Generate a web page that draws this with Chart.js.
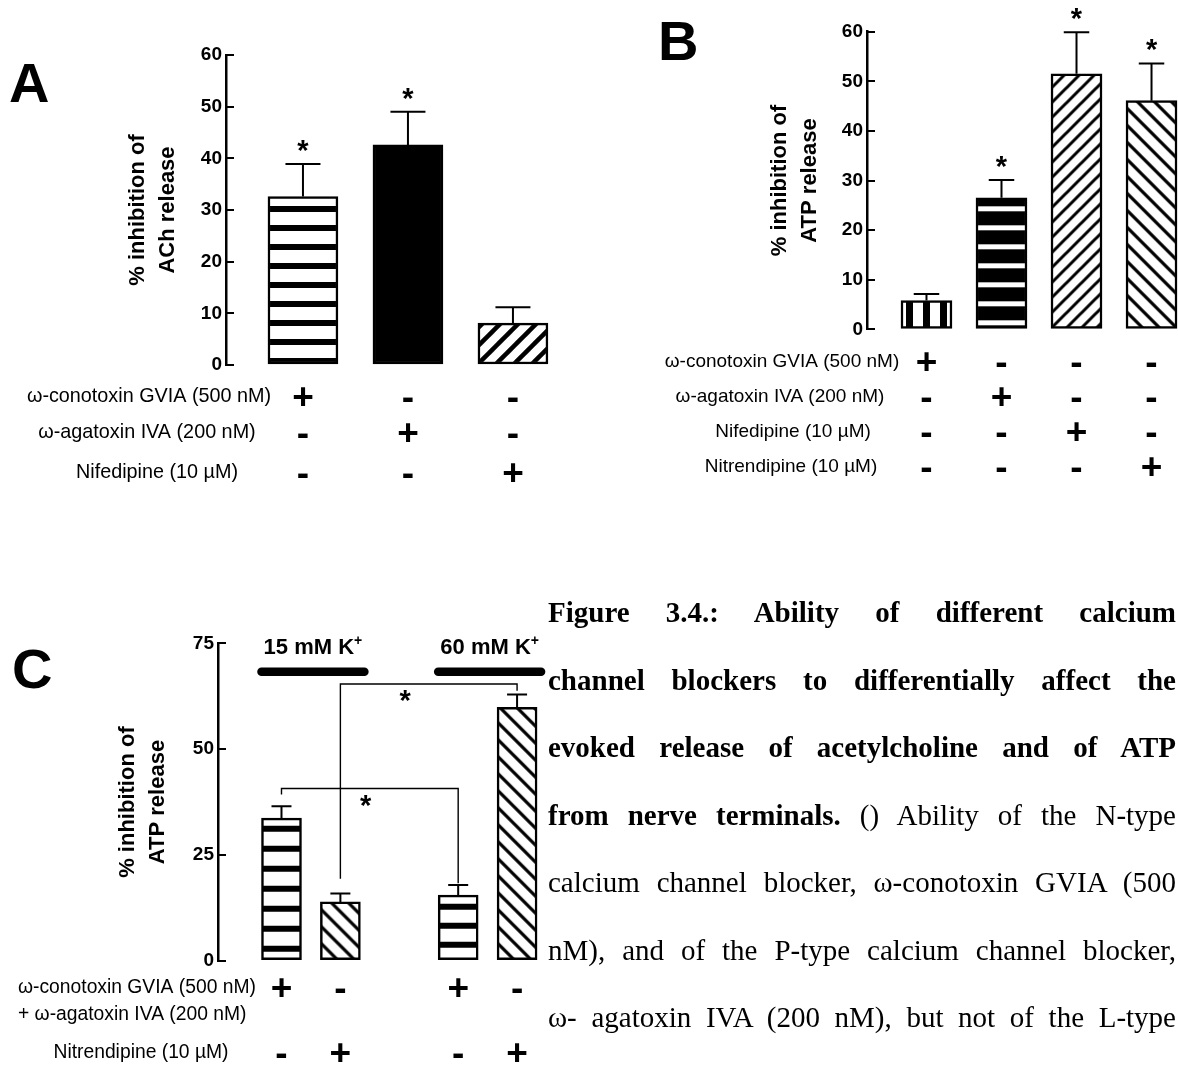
<!DOCTYPE html>
<html>
<head>
<meta charset="utf-8">
<script src="https://cdn.jsdelivr.net/npm/chart.js@4.4.1/dist/chart.umd.min.js"></script>
<style>
  body { margin: 0; background: #fff; width: 1178px; height: 1067px; position: relative; overflow: hidden; }
  canvas { position: absolute; }
  .caption { position: absolute; left: 548px; top: 579px; width: 628px;
    font-family: 'Liberation Serif', 'Times New Roman', serif; font-size: 29px; line-height: 67.5px; color: #000; }
  .caption div { text-align: justify; text-align-last: justify; white-space: nowrap; }
</style>
</head>
<body>
<canvas id="panelA" width="560" height="500" style="left:0;top:0"></canvas>
<canvas id="panelB" width="538" height="490" style="left:640px;top:0"></canvas>
<canvas id="panelC" width="560" height="447" style="left:0;top:620px"></canvas>

<div class="caption">
  <div><b>Figure 3.4.: Ability of different calcium</b></div>
  <div><b>channel blockers to differentially affect the</b></div>
  <div><b>evoked release of acetylcholine and of ATP</b></div>
  <div><b>from nerve terminals.</b> () Ability of the N-type</div>
  <div>calcium channel blocker, ω-conotoxin GVIA (500</div>
  <div>nM), and of the P-type calcium channel blocker,</div>
  <div>ω- agatoxin IVA (200 nM), but not of the L-type</div>
</div>

<script>
const FONT = "'Liberation Sans', Arial, sans-serif";

// Panel A - ACh release
const positionsA = [1, 2, 3];
const valuesA = [32.6, 42.6, 8.1];
const errorsA = [6.3, 6.4, 3.1];
const starsA = [true, true, false];
const ticksA = [0, 10, 20, 30, 40, 50, 60];
const rowLabelsA = ['ω-conotoxin GVIA (500 nM)', 'ω-agatoxin IVA (200 nM)', 'Nifedipine (10 µM)'];
const signsA = [['+', '-', '-'], ['-', '+', '-'], ['-', '-', '+']];

// Panel B - ATP release
const positionsB = [1, 2, 3, 4];
const valuesB = [5.8, 26.5, 51.5, 46.1];
const errorsB = [1.3, 3.6, 8.4, 7.5];
const starsB = [false, true, true, true];
const ticksB = [0, 10, 20, 30, 40, 50, 60];
const rowLabelsB = ['ω-conotoxin GVIA (500 nM)', 'ω-agatoxin IVA (200 nM)', 'Nifedipine (10 µM)', 'Nitrendipine (10 µM)'];
const signsB = [['+', '-', '-', '-'], ['-', '+', '-', '-'], ['-', '-', '+', '-'], ['-', '-', '-', '+']];

// Panel C - ATP release, 15 vs 60 mM K+
const positionsC = [1, 2, 4, 5];
const valuesC = [33.7, 13.9, 15.5, 59.9];
const errorsC = [2.8, 2.0, 2.4, 3.0];
const starsC = [false, false, false, false];
const ticksC = [0, 25, 50, 75];
const rowLabelsC = ['ω-conotoxin GVIA (500 nM)\n+ ω-agatoxin IVA (200 nM)', 'Nitrendipine (10 µM)'];
const signsC = [['+', '-', '+', '-'], ['-', '+', '-', '+']];
const groupsC = [{ label: '15 mM K', from: 1, to: 2 }, { label: '60 mM K', from: 4, to: 5 }];
const groupLevelC = 68.3;
// brackets: x positions, level of the line, bottom of each leg, star x
const bracketsC = [
    { from: 1, to: 4, level: 40.7, fromEnd: 39.3, toEnd: 18.3, starAt: 2.43 },
    { from: 2, to: 5, level: 65.4, fromEnd: 19.4, toEnd: 63.8, starAt: 3.1 }
];

// fill patterns
function makePattern(spec) {
    const c = document.createElement('canvas');
    const g = c.getContext('2d');
    if (spec.kind === 'h') {
        c.width = 8; c.height = spec.period;
        g.fillStyle = spec.bg || '#fff'; g.fillRect(0, 0, 8, spec.period);
        g.fillStyle = spec.fg || '#000'; g.fillRect(0, spec.from, 8, spec.to - spec.from);
    } else if (spec.kind === 'v') {
        c.width = spec.period; c.height = 8;
        g.fillStyle = '#fff'; g.fillRect(0, 0, spec.period, 8);
        g.fillStyle = '#000'; g.fillRect(spec.from, 0, spec.to - spec.from, 8);
    } else {
        const s = spec.size;
        c.width = s; c.height = s;
        g.fillStyle = '#fff'; g.fillRect(0, 0, s, s);
        g.strokeStyle = '#000'; g.lineWidth = spec.lw;
        g.beginPath();
        for (const k of [-1, 0, 1]) {
            if (spec.dir === '/') { g.moveTo(k * s - s, 2 * s); g.lineTo(k * s + 2 * s, -s); }
            else { g.moveTo(k * s - s, -s); g.lineTo(k * s + 2 * s, 2 * s); }
        }
        g.stroke();
    }
    return g.createPattern(c, 'repeat');
}

// anchor every pattern on its own bar (left edge / baseline)
const patternAnchor = {
    id: 'patternAnchor',
    beforeDatasetsDraw(chart) {
        const ds = chart.data.datasets[0];
        chart.getDatasetMeta(0).data.forEach((bar, i) => {
            const bg = ds.backgroundColor[i];
            if (bg instanceof CanvasPattern) {
                bg.setTransform(new DOMMatrix().translate(bar.x - bar.width / 2, bar.base));
            }
        });
    }
};

function signText(ctx, s, x, y) {
    ctx.font = 'bold 37px ' + FONT;
    ctx.textAlign = 'center';
    ctx.textBaseline = 'alphabetic';
    ctx.fillText(s, x, y + 12);
}

function extras(p) {
    return {
        id: 'extras',
        afterDatasetsDraw(chart) {
            const ctx = chart.ctx;
            const xs = chart.scales.x, ys = chart.scales.y;
            const bars = chart.getDatasetMeta(0).data;
            ctx.save();
            ctx.fillStyle = '#000';
            ctx.strokeStyle = '#000';

            // error bars + stars
            ctx.lineWidth = 2;
            bars.forEach((bar, i) => {
                const top = ys.getPixelForValue(p.values[i] + p.errors[i]);
                const half = bar.width / 4;
                ctx.beginPath();
                ctx.moveTo(bar.x, bar.y);
                ctx.lineTo(bar.x, top);
                ctx.moveTo(bar.x - half, top);
                ctx.lineTo(bar.x + half, top);
                ctx.stroke();
                if (p.stars[i]) {
                    ctx.font = 'bold 29px ' + FONT;
                    ctx.textAlign = 'center';
                    ctx.textBaseline = 'alphabetic';
                    ctx.fillText('*', bar.x, top - 4);
                }
            });

            // treatment table under the bars
            p.rowLabels.forEach((label, r) => {
                const y = p.layout.rowY[r];
                ctx.font = p.layout.labelSize + 'px ' + FONT;
                ctx.textBaseline = 'middle';
                const lines = label.split('\n');
                lines.forEach((line, k) => {
                    if (lines.length > 1) {
                        ctx.textAlign = 'left';
                        ctx.fillText(line, p.layout.labelLeft, y + k * 27);
                    } else {
                        ctx.textAlign = 'center';
                        ctx.fillText(line, p.layout.labelX[r], y);
                    }
                });
                p.signs[r].forEach((s, j) => signText(ctx, s, xs.getPixelForValue(p.positions[j]), y));
            });

            // groups and brackets (panel C)
            if (p.groups) {
                const hw = p.barWidth / 2;
                const gy = ys.getPixelForValue(p.groupLevel);
                p.groups.forEach(g => {
                    const x1 = xs.getPixelForValue(g.from) - hw;
                    const x2 = xs.getPixelForValue(g.to) + hw + 4;
                    ctx.lineWidth = 8.5;
                    ctx.lineCap = 'round';
                    ctx.beginPath();
                    ctx.moveTo(x1, gy);
                    ctx.lineTo(x2, gy);
                    ctx.stroke();
                    ctx.textBaseline = 'alphabetic';
                    ctx.textAlign = 'left';
                    ctx.font = 'bold 22px ' + FONT;
                    const w1 = ctx.measureText(g.label).width;
                    ctx.font = 'bold 14px ' + FONT;
                    const w2 = ctx.measureText('+').width;
                    const start = (x1 + x2) / 2 - (w1 + w2) / 2;
                    ctx.font = 'bold 22px ' + FONT;
                    ctx.fillText(g.label, start, gy - 18);
                    ctx.font = 'bold 14px ' + FONT;
                    ctx.fillText('+', start + w1, gy - 27);
                });
                ctx.lineCap = 'butt';
                ctx.lineWidth = 1.4;
                p.brackets.forEach(b => {
                    const xa = xs.getPixelForValue(b.from), xb = xs.getPixelForValue(b.to);
                    const yl = ys.getPixelForValue(b.level);
                    ctx.beginPath();
                    ctx.moveTo(xa, ys.getPixelForValue(b.fromEnd));
                    ctx.lineTo(xa, yl);
                    ctx.lineTo(xb, yl);
                    ctx.lineTo(xb, ys.getPixelForValue(b.toEnd));
                    ctx.stroke();
                    ctx.font = 'bold 29px ' + FONT;
                    ctx.textAlign = 'center';
                    ctx.textBaseline = 'alphabetic';
                    ctx.fillText('*', xs.getPixelForValue(b.starAt), yl + 26);
                });
            }

            // panel letter
            ctx.font = 'bold 56px ' + FONT;
            ctx.textAlign = 'left';
            ctx.textBaseline = 'alphabetic';
            ctx.fillText(p.letter, p.layout.letter[0], p.layout.letter[1]);
            ctx.restore();
        }
    };
}

function buildPanel(id, p) {
    const fills = p.fills.map(f => f === 'black' ? '#000' : makePattern(f));
    return new Chart(document.getElementById(id), {
        type: 'bar',
        data: {
            datasets: [{
                data: p.positions.map((x, i) => ({ x: x, y: p.values[i] })),
                backgroundColor: fills,
                borderColor: '#000',
                borderWidth: 2.5,
                borderSkipped: false,
                barThickness: p.barWidth
            }]
        },
        options: {
            responsive: false,
            animation: false,
            devicePixelRatio: 1,
            layout: { padding: p.layout.padding },
            plugins: { legend: { display: false }, tooltip: { enabled: false } },
            scales: {
                x: { type: 'linear', display: false, offset: false, bounds: 'data',
                     min: p.layout.xMin, max: p.layout.xMax, grid: { offset: false } },
                y: {
                    min: 0,
                    max: p.ticks[p.ticks.length - 1],
                    afterBuildTicks: s => { s.ticks = p.ticks.map(v => ({ value: v })); },
                    afterFit: s => { s.width = p.layout.axisWidth; },
                    border: { display: true, color: '#000', width: 2.5 },
                    grid: { drawOnChartArea: false, drawTicks: true, tickLength: -8, color: '#000', lineWidth: 2 },
                    ticks: { color: '#000', padding: 12, font: { family: FONT, size: 19, weight: 'bold' } },
                    title: {
                        display: true, text: p.title, color: '#000', padding: 0,
                        font: { family: FONT, size: 22, weight: 'bold', lineHeight: 1.36 }
                    }
                }
            }
        },
        plugins: [patternAnchor, extras(p)]
    });
}

buildPanel('panelA', {
    letter: 'A',
    positions: positionsA, values: valuesA, errors: errorsA, stars: starsA, ticks: ticksA,
    rowLabels: rowLabelsA, signs: signsA,
    title: ['% inhibition of', 'ACh release'],
    barWidth: 70,
    fills: [
        { kind: 'h', period: 19, from: 13, to: 19 },
        'black',
        { kind: 'd', dir: '/', size: 18, lw: 4.5 }
    ],
    layout: {
        padding: { left: 123, top: 55, right: 4, bottom: 135 },
        axisWidth: 103, xMin: 0.267, xMax: 3.41,
        rowY: [397, 433, 473], labelX: [149, 147, 157], labelSize: 19.8,
        letter: [9, 102]
    }
});

buildPanel('panelB', {
    letter: 'B',
    positions: positionsB, values: valuesB, errors: errorsB, stars: starsB, ticks: ticksB,
    rowLabels: rowLabelsB, signs: signsB,
    title: ['% inhibition of', 'ATP release'],
    barWidth: 51,
    fills: [
        { kind: 'v', period: 17, from: 5, to: 12 },
        { kind: 'h', period: 19, from: 11, to: 16, bg: '#000', fg: '#fff' },
        { kind: 'd', dir: '/', size: 15, lw: 3 },
        { kind: 'd', dir: '\\', size: 17, lw: 3.2 }
    ],
    layout: {
        padding: { left: 125, top: 31.7, right: 0, bottom: 160.7 },
        axisWidth: 102, xMin: 0.207, xMax: 4.353,
        rowY: [362, 397, 432, 467], labelX: [142, 140, 153, 151], labelSize: 19,
        letter: [18, 60]
    }
});

buildPanel('panelC', {
    letter: 'C',
    positions: positionsC, values: valuesC, errors: errorsC, stars: starsC, ticks: ticksC,
    rowLabels: rowLabelsC, signs: signsC,
    groups: groupsC, groupLevel: groupLevelC, brackets: bracketsC,
    title: ['% inhibition of', 'ATP release'],
    barWidth: 40,
    fills: [
        { kind: 'h', period: 20, from: 6, to: 12 },
        { kind: 'd', dir: '\\', size: 17, lw: 3.2 },
        { kind: 'h', period: 19, from: 1, to: 7 },
        { kind: 'd', dir: '\\', size: 17, lw: 3.2 }
    ],
    layout: {
        padding: { left: 113, top: 22.7, right: 10, bottom: 106.3 },
        axisWidth: 105, xMin: -0.078, xMax: 5.559,
        rowY: [368, 433], labelX: [136, 141], labelLeft: 18, labelSize: 19.3,
        letter: [12, 68]
    }
});
</script>
</body>
</html>
